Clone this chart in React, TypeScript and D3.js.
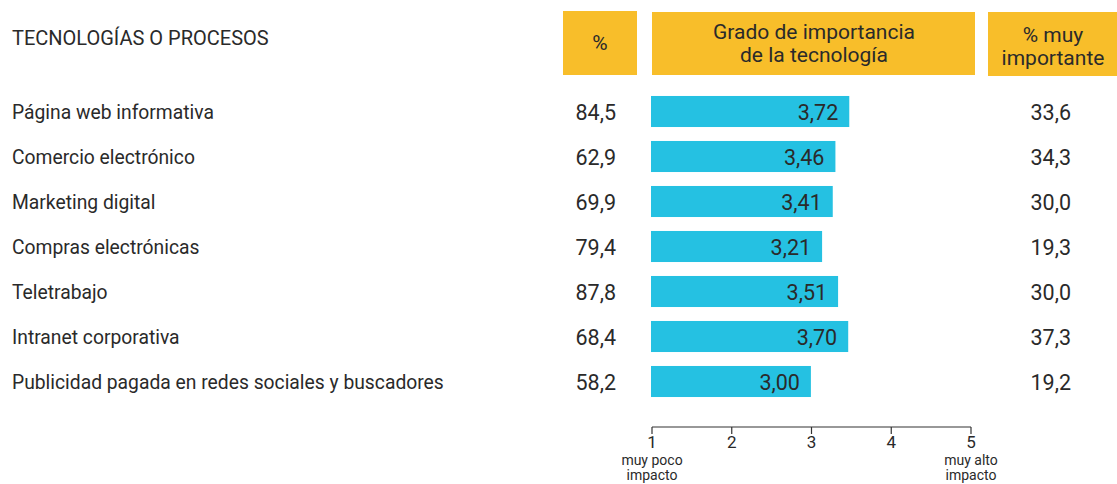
import React from "react";
import * as d3 from "d3";

const categories = [
  "Página web informativa",
  "Comercio electrónico",
  "Marketing digital",
  "Compras electrónicas",
  "Teletrabajo",
  "Intranet corporativa",
  "Publicidad pagada en redes sociales y buscadores",
];
const pctValues = [84.5, 62.9, 69.9, 79.4, 87.8, 68.4, 58.2];
const importance = [3.72, 3.46, 3.41, 3.21, 3.51, 3.7, 3.0];
const veryImportant = [33.6, 34.3, 30.0, 19.3, 30.0, 37.3, 19.2];
const axisTicks = [1, 2, 3, 4, 5];

const W = 1117;
const H = 484;
const YELLOW = "#F8BE2A";
const CYAN = "#25C1E2";
const TEXT = "#2a2a2a";
const FONT = "'Roboto', 'Noto Sans', sans-serif";

const fmt = (v: number, d: number) => v.toFixed(d).replace(".", ",");

export default function App() {
  const y = d3
    .scaleBand<number>()
    .domain(d3.range(categories.length))
    .range([89, 404])
    .paddingInner(0.31)
    .paddingOuter(0.155);
  const barX = d3.scaleLinear().domain([0, 5]).range([651, 917.5]);
  const axisX = d3.scaleLinear().domain([1, 5]).range([652, 971]);

  return (
    <svg width={W} height={H} style={{ display: "block", position: "absolute", left: 0, top: 0 }} fontFamily={FONT}>
      <rect width={W} height={H} fill="#fff" />
      {/* header */}
      <text x={12} y={45} fontSize={20} fill={TEXT}>TECNOLOGÍAS O PROCESOS</text>
      <rect x={563} y={11} width={74} height={64} fill={YELLOW} />
      <text x={600} y={50} fontSize={21} fill={TEXT} textAnchor="middle">%</text>
      <rect x={652} y={12} width={323} height={63} fill={YELLOW} />
      <text x={814} y={39} fontSize={21} fill={TEXT} textAnchor="middle">Grado de importancia</text>
      <text x={814} y={62} fontSize={21} fill={TEXT} textAnchor="middle">de la tecnología</text>
      <rect x={988} y={12} width={129} height={64} fill={YELLOW} />
      <text x={1053} y={42} fontSize={21} fill={TEXT} textAnchor="middle">% muy</text>
      <text x={1053} y={65} fontSize={21} fill={TEXT} textAnchor="middle">importante</text>

      {categories.map((c, i) => {
        const top = y(i)!;
        const cy = top + y.bandwidth() / 2;
        return (
          <g key={c}>
            <text x={12} y={cy + 7} fontSize={19.3} fill={TEXT}>{c}</text>
            <text x={616} y={cy + 8} fontSize={21.5} fill={TEXT} textAnchor="end">{fmt(pctValues[i], 1)}</text>
            <rect x={barX(0)} y={top} width={barX(importance[i]) - barX(0)} height={y.bandwidth()} fill={CYAN} />
            <text x={barX(importance[i]) - 11} y={cy + 8} fontSize={21.5} fill={TEXT} textAnchor="end">{fmt(importance[i], 2)}</text>
            <text x={1071} y={cy + 8} fontSize={21.5} fill={TEXT} textAnchor="end">{fmt(veryImportant[i], 1)}</text>
          </g>
        );
      })}

      {/* axis */}
      <line x1={axisX(1)} x2={axisX(5)} y1={427} y2={427} stroke="#333" strokeWidth={1.2} />
      {axisTicks.map((t) => (
        <g key={t}>
          <line x1={axisX(t)} x2={axisX(t)} y1={427} y2={434} stroke="#333" strokeWidth={1.2} />
          <text x={axisX(t)} y={448} fontSize={17} fill={TEXT} textAnchor="middle">{t}</text>
        </g>
      ))}
      <text x={axisX(1)} y={465} fontSize={14} fill={TEXT} textAnchor="middle">muy poco</text>
      <text x={axisX(1)} y={480} fontSize={14} fill={TEXT} textAnchor="middle">impacto</text>
      <text x={axisX(5)} y={465} fontSize={14} fill={TEXT} textAnchor="middle">muy alto</text>
      <text x={axisX(5)} y={480} fontSize={14} fill={TEXT} textAnchor="middle">impacto</text>
    </svg>
  );
}
